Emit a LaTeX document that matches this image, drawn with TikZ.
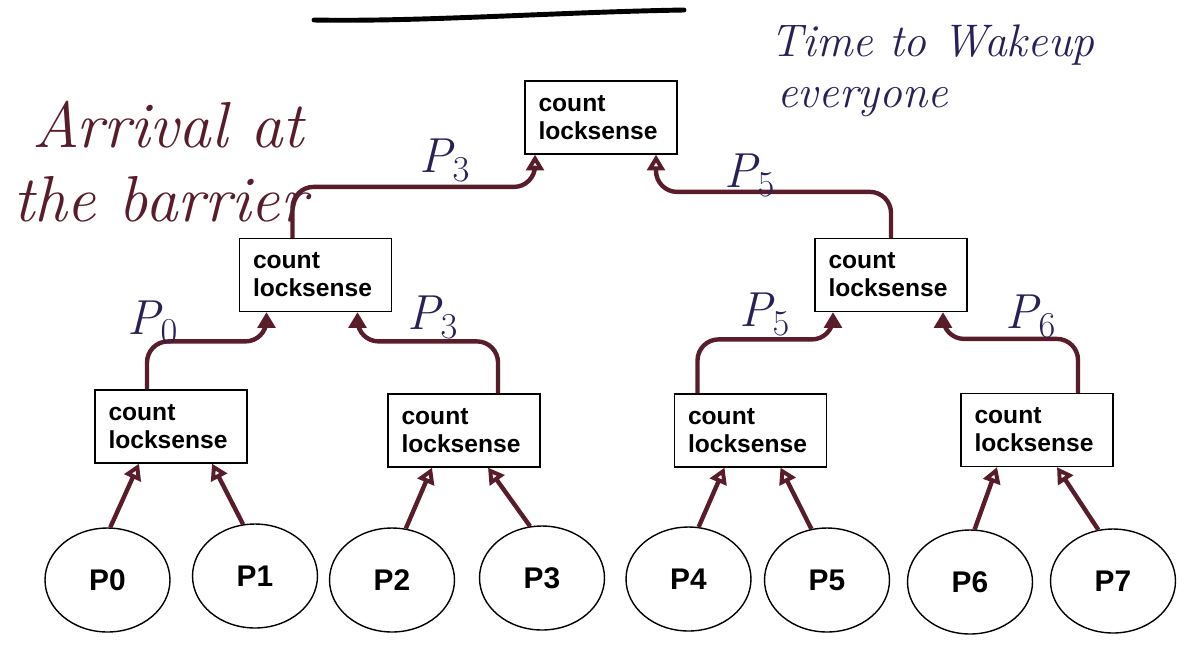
\documentclass[tikz,border=0pt]{standalone}
\usepackage{fontspec}
\usepackage{tikz}
\usepackage{xcolor}
\setsansfont{Liberation Sans}
\usetikzlibrary{positioning, shapes.geometric, arrows.meta, calc}
\definecolor{penred}{RGB}{88,28,42}
\definecolor{penblue}{RGB}{42,32,88}

\begin{document}
\begin{tikzpicture}[x=0.02cm, y=-0.02cm,
    box/.style={draw=black, line width=0.7pt, minimum width=3.04cm, minimum height=1.46cm, text width=2.5cm, inner xsep=0.27cm, align=left, font=\sffamily\bfseries\fontsize{14}{16}\selectfont},
    proc/.style={ellipse, draw=black, line width=0.8pt, minimum width=2.5cm, minimum height=2.08cm, font=\sffamily\bfseries\fontsize{17}{20}\selectfont},
    link/.style={draw=penred, line width=2.5pt, rounded corners=12pt, -{Triangle[open, length=9pt, width=10pt]}},
    hand/.style={text=penblue, font=\itshape\fontsize{28}{30}\selectfont}]
            \useasboundingbox (0, 0) rectangle (1193, 647);

            % processors
            \node[proc] (p0) at (107.5, 580) {P0};
            \node[proc] (p1) at (255, 576) {P1};
            \node[proc] (p2) at (392, 580) {P2};
            \node[proc] (p3) at (542, 578) {P3};
            \node[proc] (p4) at (688.5, 579) {P4};
            \node[proc] (p5) at (827, 580) {P5};
            \node[proc] (p6) at (970, 582) {P6};
            \node[proc] (p7) at (1113, 581) {P7};

            % tree of count / locksense
            \node[box] (b1) at (171, 426.5) {count\\locksense};
            \node[box] (b2) at (464, 430.5) {count\\locksense};
            \node[box] (b3) at (750.5, 430.5) {count\\locksense};
            \node[box] (b4) at (1037, 430) {count\\locksense};
            \node[box] (m1) at (315.5, 275) {count\\locksense};
            \node[box] (m2) at (891, 275) {count\\locksense};
            \node[box] (root) at (601, 117.5) {count\\locksense};

            \draw[link] (p0.87) -- ($(b1.south)+(-32, 0)$);
            \draw[link] (p1.103) -- ($(b1.south)+(41, 0)$);
            \draw[link] (p2.75) -- ($(b2.south)+(-32, 0)$);
            \draw[link] (p3.103) -- ($(b2.south)+(24, 0)$);
            \draw[link] (p4.79) -- ($(b3.south)+(-26, 0)$);
            \draw[link] (p5.107) -- ($(b3.south)+(30, 0)$);
            \draw[link] (p6.85) -- ($(b4.south)+(-40, 0)$);
            \draw[link] (p7.106) -- ($(b4.south)+(20, 0)$);

            \draw[link] ($(b1.north)+(-24, 0)$) -- ++(0, -48) -| ($(m1.south)+(-49, 0)$);
            \draw[link] ($(b2.north)+(34, 0)$) -- ++(0, -52) -| ($(m1.south)+(42, 0)$);
            \draw[link] ($(b3.north)+(-53, 0)$) -- ++(0, -54) -| ($(m2.south)+(-58, 0)$);
            \draw[link] ($(b4.north)+(41, 0)$) -- ++(0, -54) -| ($(m2.south)+(52, 0)$);
            \draw[link] ($(m1.north)+(-23, 0)$) -- ++(0, -51) -| ($(root.south)+(-66, 0)$);
            \draw[link] (m2.north) -- ++(0, -46) -| ($(root.south)+(55, 0)$);

            % winners written on the links
            \node[hand] (w1) at (153, 322) {P$_0$};
            \node[hand] (w2) at (433, 317) {P$_3$};
            \node[hand] (w3) at (765, 314) {P$_5$};
            \node[hand] (w4) at (1031, 316) {P$_6$};
            \node[hand] (w5) at (445, 160) {P$_3$};
            \node[hand] (w6) at (750, 175) {P$_5$};

            % notes
            \node[anchor=north west, align=left, inner sep=0, text=penred, font=\itshape\fontsize{37}{42}\selectfont] (arrive) at (13, 101) {\hspace*{0.38cm}Arrival at\\the barrier};
            \node[anchor=north west, align=left, inner sep=0, text=penblue, font=\itshape\fontsize{26}{29}\selectfont] (wake) at (770, 24) {Time to Wakeup\\\hspace*{0.14cm}everyone};
            \draw[line width=2.8pt, line cap=round] (314, 20) .. controls (420, 22) and (560, 12) .. (684, 10);
        \end{tikzpicture}
\end{document}
